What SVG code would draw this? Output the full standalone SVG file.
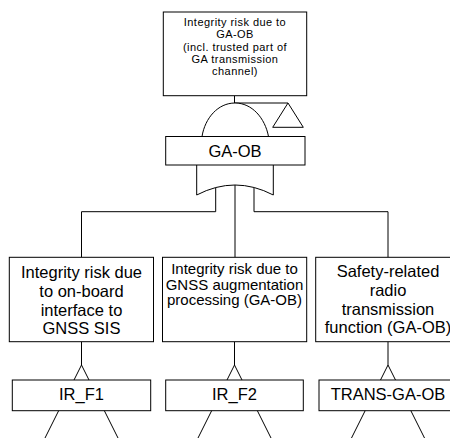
<svg xmlns="http://www.w3.org/2000/svg" width="450" height="438" viewBox="0 0 450 438">
  <style>
    .box { fill: #fff; stroke: #000; stroke-width: 1; }
    .line { fill: none; stroke: #000; stroke-width: 1; }
    .gate { fill: #fff; stroke: #000; stroke-width: 1; }
    text { font-family: "Liberation Sans", Arial, sans-serif; fill: #000; text-anchor: middle; }
    .t-top { font-size: 11px; letter-spacing: 0.45px; }
    .t-mid { font-size: 15px; }
    .t-big { font-size: 16.5px; }
    .t-id { font-size: 16.5px; }
  </style>
  <rect width="450" height="438" fill="#fff"/>

  <!-- connectors and gates -->
  <g id="connectors">
    <path class="line" d="M234.5,95.7 V103 H288"/>
    <path class="line" d="M215.7,188 V211.7 H81.5 V257.3"/>
    <path class="line" d="M235,185 V257.3"/>
    <path class="line" d="M254,188 V211.7 H388 V257.3"/>
    <path class="line" d="M81.5,341.7 V365"/>
    <path class="line" d="M234.5,341.7 V365"/>
    <path class="line" d="M388,341.7 V365"/>
    <!-- transfer triangles below the leaf nodes -->
    <path class="line" d="M44,440 L81.5,365 L119,440"/>
    <path class="line" d="M197,440 L234.5,365 L272,440"/>
    <path class="line" d="M350.5,440 L388,365 L425.5,440"/>
  </g>

  <g id="and-gate">
    <path class="gate" d="M202,136.5 C205,118 218,103 235,103 C252,103 265,118 268.5,136.5 Z"/>
  </g>
  <g id="transfer-in">
    <path class="gate" d="M288,103 L272.7,127.3 H303.3 Z"/>
  </g>
  <g id="or-gate">
    <path class="gate" d="M196.7,165 V195 Q235,175 273.3,195 V165"/>
  </g>

  <g id="top-event">
    <rect class="box" x="163.3" y="12" width="143.4" height="83.7"/>
    <text class="t-top" x="235" y="26">Integrity risk due to</text>
    <text class="t-top" x="235" y="38.3">GA-OB</text>
    <text class="t-top" x="235" y="50.6">(incl. trusted part of</text>
    <text class="t-top" x="235" y="62.9">GA transmission</text>
    <text class="t-top" x="235" y="75.2">channel)</text>
  </g>

  <g id="ga-ob">
    <rect class="box" x="165.7" y="136.5" width="139.3" height="28.5"/>
    <text class="t-id" x="235" y="156.7">GA-OB</text>
  </g>

  <g id="event-onboard">
    <rect class="box" x="9.3" y="257.3" width="144.2" height="84.4"/>
    <text class="t-big" x="81.5" y="278.3">Integrity risk due</text>
    <text class="t-big" x="81.5" y="297">to on-board</text>
    <text class="t-big" x="81.5" y="315.7">interface to</text>
    <text class="t-big" x="81.5" y="334.3">GNSS SIS</text>
  </g>

  <g id="event-augmentation">
    <rect class="box" x="162.5" y="257.3" width="144.2" height="84.4"/>
    <text class="t-mid" x="234.5" y="274">Integrity risk due to</text>
    <text class="t-mid" x="234.5" y="289.5">GNSS augmentation</text>
    <text class="t-mid" x="234.5" y="305">processing (GA-OB)</text>
  </g>

  <g id="event-transmission">
    <rect class="box" x="315.7" y="257.3" width="144.6" height="84.4"/>
    <text class="t-big" x="388" y="276.7">Safety-related</text>
    <text class="t-big" x="388" y="295.5">radio</text>
    <text class="t-big" x="388" y="314.5">transmission</text>
    <text class="t-big" x="388" y="333.3">function (GA-OB)</text>
  </g>

  <g id="ir-f1">
    <rect class="box" x="12.3" y="380" width="138.4" height="30.7"/>
    <text class="t-id" x="81.5" y="399.5">IR_F1</text>
  </g>
  <g id="ir-f2">
    <rect class="box" x="165.7" y="380" width="137.6" height="30.7"/>
    <text class="t-id" x="234.5" y="399.5">IR_F2</text>
  </g>
  <g id="trans-ga-ob">
    <rect class="box" x="319" y="380" width="138.4" height="30.7"/>
    <text class="t-id" x="388" y="399.5">TRANS-GA-OB</text>
  </g>
</svg>
